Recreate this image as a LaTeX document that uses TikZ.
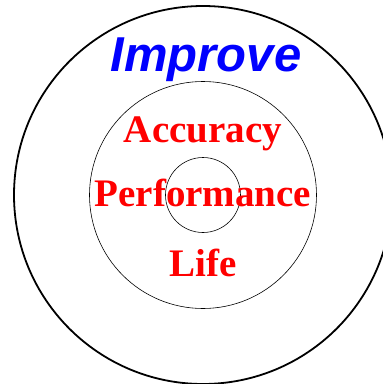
\documentclass[tikz,border=0pt]{standalone}
\usepackage{fontspec}
\setmainfont{Liberation Serif}
\setsansfont{Liberation Sans}
\begin{document}
\begin{tikzpicture}[x=1pt,y=1pt]
      \useasboundingbox (-203,-189) rectangle (180,195);
      \clip (-203,-189) rectangle (180,195);
      \begin{scope}[draw=black]
        \draw[line width=1.8pt] (0,0) circle (189);
        \draw[line width=0.6pt] (0,0) circle (113.5);
        \draw[line width=0.6pt] (0,0) circle (37.5);
      \end{scope}
      \draw
        (3,124) node[anchor=base,text=blue,font=\fontsize{49}{49}\sffamily\bfseries\itshape] (improve){Improve}
        (0,53) node[anchor=base,text=red,font=\fontsize{39}{39}\bfseries] (accuracy){Accuracy}
        (0,-11) node[anchor=base,text=red,font=\fontsize{39}{39}\bfseries] (performance){Performance}
        (0,-81) node[anchor=base,text=red,font=\fontsize{39}{39}\bfseries] (life){Life};
    \end{tikzpicture}
\end{document}
